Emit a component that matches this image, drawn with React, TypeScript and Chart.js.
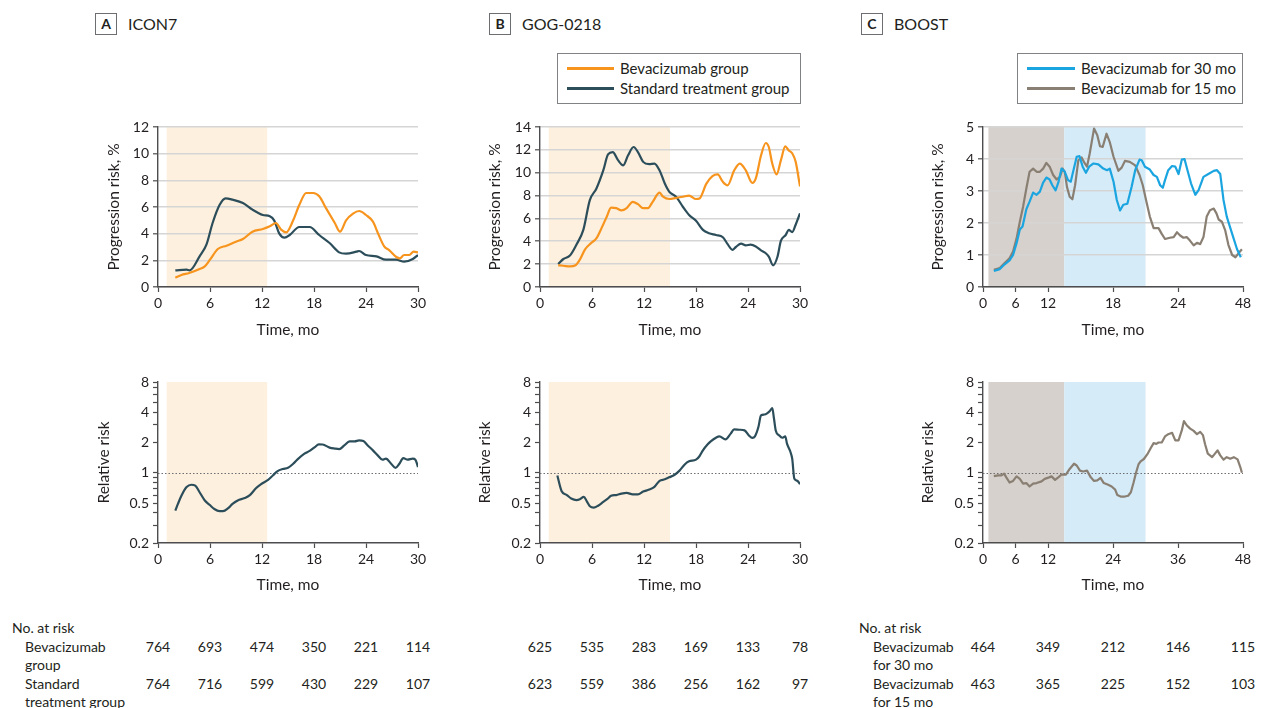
import { useEffect, useRef } from "react";
import { Chart, registerables } from "chart.js";

Chart.register(...registerables);

// ---------- data ----------
// ICON7: progression risk (%) by month
const icon7BevMonths = [2.0, 2.7, 3.6, 4.8, 5.4, 6.0, 6.9, 7.9, 9.0, 9.8, 10.9, 12.1, 12.9, 13.6, 14.2, 14.8, 15.6, 16.3, 17.1, 17.9, 18.6, 19.4, 20.4, 21.0, 21.7, 22.5, 23.2, 24.0, 24.8, 25.4, 26.1, 26.7, 27.5, 27.9, 28.4, 29.0, 29.5, 30.0];
const icon7BevRisk = [0.7, 0.9, 1.05, 1.35, 1.55, 2.05, 2.85, 3.1, 3.4, 3.6, 4.15, 4.35, 4.55, 4.8, 4.3, 4.1, 5.0, 6.15, 7.05, 7.05, 6.8, 5.9, 4.8, 4.15, 5.0, 5.5, 5.7, 5.4, 4.9, 4.0, 3.05, 2.75, 2.25, 2.15, 2.4, 2.4, 2.65, 2.6];
const icon7StdMonths = [2.0, 3.3, 3.65, 4.8, 5.6, 6.3, 7.1, 7.8, 8.6, 9.8, 10.9, 12.1, 12.9, 13.4, 14.0, 14.6, 15.2, 16.3, 17.5, 18.6, 19.8, 20.9, 21.7, 22.9, 23.2, 24.0, 25.2, 26.3, 27.5, 28.4, 29.4, 30.0];
const icon7StdRisk = [1.25, 1.3, 1.25, 2.3, 3.2, 4.8, 6.15, 6.65, 6.55, 6.3, 5.8, 5.4, 5.3, 5.0, 4.0, 3.7, 3.9, 4.5, 4.5, 3.9, 3.3, 2.6, 2.5, 2.65, 2.7, 2.4, 2.3, 2.05, 2.05, 1.9, 2.1, 2.4];
const icon7RelMonths = [2.0, 2.3, 2.7, 3.3, 3.85, 4.3, 4.8, 5.4, 5.95, 6.5, 7.1, 7.5, 8.1, 8.6, 9.2, 10.0, 10.6, 11.3, 11.9, 12.7, 13.25, 13.8, 14.4, 15.0, 15.6, 16.1, 16.9, 17.5, 18.1, 18.55, 19.0, 19.8, 20.4, 20.9, 21.5, 22.1, 22.7, 23.2, 23.7, 24.2, 24.8, 25.35, 25.9, 26.3, 26.9, 27.4, 27.85, 28.3, 28.8, 29.4, 29.7, 30.0];
const icon7RelRisk = [0.42, 0.49, 0.59, 0.72, 0.76, 0.745, 0.64, 0.53, 0.48, 0.436, 0.415, 0.415, 0.445, 0.49, 0.53, 0.56, 0.6, 0.7, 0.77, 0.85, 0.94, 1.04, 1.09, 1.12, 1.23, 1.36, 1.55, 1.65, 1.8, 1.92, 1.91, 1.78, 1.74, 1.72, 1.87, 2.05, 2.05, 2.1, 2.07, 1.87, 1.67, 1.49, 1.35, 1.38, 1.23, 1.12, 1.23, 1.4, 1.35, 1.38, 1.35, 1.14];

// GOG-0218
const gogBevMonths = [2.1, 2.7, 3.45, 4.1, 4.6, 5.2, 5.9, 6.5, 7.1, 7.7, 8.2, 8.8, 9.4, 10.0, 10.7, 11.3, 11.9, 12.45, 13.0, 13.8, 14.2, 14.9, 15.7, 16.5, 17.2, 18.0, 18.4, 19.2, 19.9, 20.5, 21.1, 21.65, 22.4, 23.05, 23.75, 24.5, 24.9, 25.5, 26.05, 26.4, 26.8, 27.3, 27.8, 28.3, 28.7, 29.1, 29.5, 30.0];
const gogBevRisk = [1.9, 1.86, 1.8, 1.9, 2.4, 3.3, 3.85, 4.25, 5.15, 6.15, 6.95, 6.9, 6.7, 6.9, 7.45, 7.25, 6.9, 6.9, 7.45, 8.25, 7.9, 7.7, 7.8, 7.9, 8.0, 7.7, 7.75, 9.05, 9.7, 9.85, 9.2, 8.9, 10.2, 10.8, 10.2, 9.1, 9.5, 11.5, 12.6, 12.25, 10.8, 9.85, 11.1, 12.3, 11.95, 11.7, 10.95, 8.8];
const gogStdMonths = [2.1, 2.7, 3.45, 4.2, 5.0, 5.75, 6.5, 7.3, 7.85, 8.4, 9.0, 9.6, 10.15, 10.8, 11.3, 11.9, 12.6, 13.2, 13.8, 14.4, 14.9, 15.7, 16.5, 17.2, 18.0, 18.8, 19.5, 20.3, 21.1, 21.65, 22.2, 22.6, 23.2, 23.75, 24.3, 24.9, 25.5, 26.05, 26.4, 26.9, 27.4, 27.8, 28.35, 28.7, 29.1, 29.5, 30.0];
const gogStdRisk = [2.0, 2.45, 2.75, 3.7, 5.0, 7.6, 8.6, 10.2, 11.6, 11.8, 11.1, 10.65, 11.5, 12.25, 11.8, 10.95, 10.75, 10.8, 10.2, 9.05, 8.35, 7.9, 7.0, 6.3, 5.8, 5.0, 4.7, 4.55, 4.35, 3.75, 3.25, 3.5, 3.8, 3.65, 3.7, 3.55, 3.2, 2.95, 2.65, 1.9, 2.65, 4.05, 4.55, 5.0, 4.8, 5.45, 6.45];
const gogRelMonths = [2.0, 2.5, 3.1, 3.6, 4.2, 4.6, 5.05, 5.4, 5.75, 6.2, 6.7, 7.3, 7.85, 8.2, 8.8, 9.4, 10.0, 10.7, 11.3, 11.9, 12.6, 13.2, 13.8, 14.4, 14.9, 15.5, 16.1, 16.7, 17.2, 18.0, 18.4, 18.8, 19.35, 19.7, 20.3, 20.7, 21.4, 22.0, 22.4, 23.0, 23.6, 24.1, 24.5, 24.8, 25.2, 25.5, 25.9, 26.2, 26.55, 26.8, 27.0, 27.2, 27.6, 27.95, 28.3, 28.5, 28.9, 29.1, 29.35, 29.7, 30.0];
const gogRelRisk = [0.94, 0.655, 0.6, 0.555, 0.535, 0.545, 0.575, 0.52, 0.465, 0.45, 0.47, 0.513, 0.555, 0.59, 0.6, 0.62, 0.63, 0.61, 0.61, 0.65, 0.68, 0.725, 0.83, 0.86, 0.9, 0.95, 1.05, 1.21, 1.3, 1.35, 1.46, 1.67, 1.92, 2.05, 2.23, 2.3, 2.15, 2.45, 2.7, 2.68, 2.64, 2.35, 2.22, 2.3, 2.85, 3.72, 3.8, 3.9, 4.15, 4.4, 3.45, 2.64, 2.35, 2.23, 2.3, 1.95, 1.61, 1.38, 0.87, 0.83, 0.77];

// BOOST
const boost30Months = [2.0, 3.1, 4.0, 4.9, 5.55, 6.2, 6.8, 7.3, 8.0, 8.6, 9.25, 9.9, 10.5, 11.1, 11.7, 12.3, 12.8, 13.4, 13.9, 14.5, 15.1, 15.7, 16.2, 16.7, 17.3, 17.8, 18.4, 19.0, 19.6, 20.4, 21.3, 22.2, 22.9, 23.4, 24.1, 24.7, 25.3, 25.9, 26.65, 27.45, 28.1, 28.9, 29.3, 29.9, 30.8, 31.5, 32.1, 32.7, 33.2, 33.6, 34.2, 34.9, 35.5, 36.1, 36.7, 37.2, 37.75, 38.4, 39.2, 39.8, 40.7, 41.6, 42.6, 43.2, 43.8, 44.4, 45.0, 46.0, 46.9, 47.6];
const boost30Risk = [0.5, 0.56, 0.71, 0.83, 1.0, 1.37, 1.8, 1.89, 2.43, 2.67, 2.95, 2.88, 2.98, 3.26, 3.42, 3.36, 3.18, 3.02, 3.26, 3.7, 3.6, 3.34, 3.29, 3.65, 4.07, 4.09, 3.76, 3.57, 3.76, 3.86, 3.83, 3.7, 3.65, 3.7, 3.29, 2.72, 2.39, 2.57, 2.6, 3.14, 3.65, 3.98, 3.96, 3.76, 3.67, 3.5, 3.44, 3.18, 3.1, 3.34, 3.65, 3.78, 3.76, 3.53, 3.98, 4.0, 3.65, 3.24, 2.88, 3.03, 3.44, 3.53, 3.63, 3.65, 3.53, 2.72, 2.2, 1.66, 1.18, 0.93];
const boost15Months = [2.0, 3.1, 4.0, 4.9, 5.55, 6.2, 6.8, 7.4, 8.0, 8.6, 9.25, 9.9, 10.5, 11.1, 11.7, 12.3, 12.95, 13.6, 14.2, 14.7, 15.1, 15.5, 16.0, 16.5, 17.0, 17.6, 18.2, 18.8, 19.2, 19.7, 20.5, 21.1, 21.6, 22.1, 22.8, 23.4, 24.1, 25.0, 25.6, 26.2, 27.1, 28.1, 28.9, 29.5, 30.1, 30.8, 31.5, 32.4, 33.0, 33.6, 34.5, 35.2, 35.8, 36.4, 37.0, 37.6, 38.2, 38.9, 39.5, 40.1, 40.7, 41.3, 41.9, 42.6, 43.1, 43.5, 44.1, 44.7, 45.3, 46.0, 46.6, 47.2, 47.8];
const boost15Risk = [0.54, 0.59, 0.75, 0.9, 1.11, 1.52, 2.04, 2.51, 3.08, 3.6, 3.7, 3.6, 3.6, 3.7, 3.88, 3.76, 3.5, 3.36, 3.44, 3.7, 3.6, 3.13, 2.82, 2.74, 3.18, 3.96, 4.05, 3.86, 3.76, 4.17, 4.95, 4.74, 4.4, 4.38, 4.79, 4.53, 4.07, 3.63, 3.73, 3.94, 3.91, 3.8, 3.5, 3.18, 2.72, 2.2, 1.84, 1.84, 1.66, 1.5, 1.54, 1.56, 1.71, 1.61, 1.54, 1.56, 1.45, 1.3, 1.38, 1.34, 1.56, 2.2, 2.4, 2.45, 2.3, 2.11, 2.04, 1.78, 1.32, 1.0, 0.93, 1.06, 1.18];
const boostRelMonths = [2.0, 2.8, 3.4, 3.9, 4.3, 4.9, 5.55, 6.2, 6.8, 7.4, 8.0, 8.6, 9.25, 9.9, 10.8, 11.4, 12.2, 12.65, 13.3, 13.9, 14.5, 15.3, 16.0, 16.8, 17.3, 17.9, 18.5, 19.2, 19.9, 20.5, 21.1, 21.7, 22.3, 23.1, 23.75, 24.4, 24.8, 25.4, 26.2, 26.8, 27.3, 27.8, 28.25, 28.7, 29.1, 29.7, 30.35, 31.0, 31.5, 32.0, 32.4, 33.0, 33.6, 34.2, 34.9, 35.5, 36.1, 36.7, 37.1, 37.6, 38.25, 38.9, 39.5, 40.1, 40.6, 41.0, 41.5, 42.3, 42.9, 43.3, 43.8, 44.4, 45.0, 45.65, 46.3, 47.0, 47.5, 47.8];
const boostRelRisk = [0.925, 0.94, 0.94, 0.98, 0.9, 0.8, 0.83, 0.92, 0.87, 0.78, 0.79, 0.73, 0.78, 0.79, 0.82, 0.87, 0.9, 0.92, 0.85, 0.9, 0.96, 0.96, 1.09, 1.23, 1.18, 1.05, 1.03, 1.05, 0.9, 0.83, 0.84, 0.89, 0.79, 0.76, 0.73, 0.68, 0.6, 0.58, 0.58, 0.59, 0.64, 0.8, 1.0, 1.21, 1.3, 1.37, 1.53, 1.77, 1.97, 1.94, 2.0, 2.0, 2.3, 2.42, 2.5, 2.1, 2.1, 2.64, 3.27, 2.97, 2.75, 2.61, 2.42, 2.55, 2.37, 1.92, 1.55, 1.43, 1.57, 1.67, 1.49, 1.35, 1.43, 1.38, 1.43, 1.36, 1.14, 1.0];

// Axis ticks
const ticks30 = [0, 6, 12, 18, 24, 30];
const ticks48 = [0, 6, 12, 24, 36, 48];
const boostTopTickLabels = ["0", "6", "12", "18", "24", "48"];
const relTicks = [0.2, 0.3, 0.4, 0.5, 0.6, 0.7, 0.8, 0.9, 1, 2, 3, 4, 5, 6, 7, 8];
const relTickLabels = [0.2, 0.5, 1, 2, 4, 8];

// Numbers at risk
const riskMonths30 = [0, 6, 12, 18, 24, 30];
const riskMonths48 = [0, 12, 24, 36, 48];
const icon7BevAtRisk = [764, 693, 474, 350, 221, 114];
const icon7StdAtRisk = [764, 716, 599, 430, 229, 107];
const gogBevAtRisk = [625, 535, 283, 169, 133, 78];
const gogStdAtRisk = [623, 559, 386, 256, 162, 97];
const boost30AtRisk = [464, 349, 212, 146, 115];
const boost15AtRisk = [463, 365, 225, 152, 103];

// ---------- styling ----------
const FONT = "Lato, 'Open Sans', sans-serif";
const INK = "#231f20";
const AXIS = "#4d4d4f";
const GRID = "#d5d5d5";
const ORANGE = "#f7941d";
const TEAL = "#2c4d5a";
const CYAN = "#1ba5e0";
const TAUPE = "#8a7f73";
const PEACH = "#fdf0df";
const STONE = "#d6d1cc";
const SKY = "#d5ebf8";

type Band = { from: number; to: number; color: string };
type Series = { months: number[]; values: number[]; color: string };
type PlotSpec = {
  plotLeft: number;
  plotRight: number;
  plotTop: number;
  plotBottom: number;
  yTitleX: number;
  xTitleY: number;
  yTitle: string;
  xMax: number;
  xTicks: number[];
  xLabels: string[];
  log: boolean;
  yMax?: number;
  yStep?: number;
  bands: Band[];
  refLine?: number;
  series: Series[];
  smooth: boolean;
};

// Shaded treatment windows and the reference line at a relative risk of 1
const overlays = {
  id: "overlays",
  beforeDraw(chart: any, _args: any, opts: any) {
    const { ctx, chartArea: a, scales } = chart;
    ctx.save();
    for (const b of opts.bands || []) {
      const x0 = scales.x.getPixelForValue(b.from);
      const x1 = scales.x.getPixelForValue(b.to);
      ctx.fillStyle = b.color;
      ctx.fillRect(x0, a.top, x1 - x0, a.bottom - a.top);
    }
    ctx.restore();
  },
  beforeDatasetsDraw(chart: any, _args: any, opts: any) {
    if (opts.refLine == null) return;
    const { ctx, chartArea: a, scales } = chart;
    const y = Math.round(scales.y.getPixelForValue(opts.refLine)) + 0.5;
    ctx.save();
    ctx.setLineDash([1.5, 2]);
    ctx.strokeStyle = "#6d6e71";
    ctx.lineWidth = 1.2;
    ctx.beginPath();
    ctx.moveTo(a.left, y);
    ctx.lineTo(a.right, y);
    ctx.stroke();
    ctx.restore();
  },
};

const PAD_TOP = 17;
const PAD_RIGHT = 12;
const TITLE_FONT = 15.5;
const TITLE_LH = TITLE_FONT * 1.2;

function boxOf(p: PlotSpec) {
  const left = Math.round(p.yTitleX - TITLE_LH / 2);
  const top = p.plotTop - PAD_TOP;
  const width = p.plotRight + PAD_RIGHT - left;
  const height = Math.round(p.xTitleY + TITLE_LH / 2) - top;
  return { left, top, width, height };
}

function buildConfig(p: PlotSpec): any {
  const box = boxOf(p);
  const yAxisWidth = p.plotLeft - box.left;
  const xAxisHeight = box.top + box.height - p.plotBottom;
  const tickFont = { family: FONT, size: 14 };
  const titleFont = { family: FONT, size: TITLE_FONT };
  const yScale: any = p.log
    ? {
        type: "logarithmic",
        min: 0.2,
        max: 8,
        afterBuildTicks: (s: any) => {
          s.ticks = relTicks.map((v) => ({ value: v }));
        },
        ticks: {
          autoSkip: false,
          font: tickFont,
          color: INK,
          padding: 4,
          callback: (v: number) => (relTickLabels.includes(v) ? String(v) : ""),
        },
        grid: { drawOnChartArea: false, tickLength: 5, tickColor: AXIS, tickWidth: 1.2 },
      }
    : {
        type: "linear",
        min: 0,
        max: p.yMax,
        ticks: { stepSize: p.yStep, font: tickFont, color: INK, padding: 4 },
        grid: { color: GRID, lineWidth: 1.6, tickLength: 5, tickColor: AXIS, tickWidth: 1.2 },
      };
  yScale.border = { color: AXIS, width: 1.4 };
  yScale.title = { display: true, text: p.yTitle, font: titleFont, color: INK, padding: 0 };
  yScale.afterFit = (s: any) => {
    s.width = yAxisWidth;
  };

  return {
    type: "line",
    data: {
      datasets: p.series.map((s) => ({
        data: s.months.map((m, i) => ({ x: m, y: s.values[i] })),
        borderColor: s.color,
        borderWidth: 2.2,
        pointRadius: 0,
        fill: false,
        tension: p.smooth ? 0.4 : 0,
        cubicInterpolationMode: p.smooth ? "monotone" : "default",
        borderJoinStyle: "round",
      })),
    },
    options: {
      responsive: false,
      animation: false,
      events: [],
      layout: { padding: { top: PAD_TOP, right: PAD_RIGHT, left: 0, bottom: 0 } },
      plugins: {
        legend: { display: false },
        tooltip: { enabled: false },
        overlays: { bands: p.bands, refLine: p.refLine },
      },
      scales: {
        x: {
          type: "linear",
          min: 0,
          max: p.xMax,
          afterBuildTicks: (s: any) => {
            s.ticks = p.xTicks.map((v) => ({ value: v }));
          },
          ticks: {
            autoSkip: false,
            maxRotation: 0,
            font: tickFont,
            color: INK,
            padding: 3,
            callback: (_v: number, i: number) => p.xLabels[i],
          },
          grid: { drawOnChartArea: false, tickLength: 5, tickColor: AXIS, tickWidth: 1.2 },
          border: { color: AXIS, width: 1.4 },
          title: { display: true, text: "Time, mo", font: titleFont, color: INK, padding: 0 },
          afterFit: (s: any) => {
            s.height = xAxisHeight;
          },
        },
        y: yScale,
      },
    },
    plugins: [overlays],
  };
}

const TOP = { plotTop: 127, plotBottom: 287, xTitleY: 330 };
const BOTTOM = { plotTop: 382, plotBottom: 543, xTitleY: 585 };
const COL_A = { plotLeft: 158, plotRight: 418 };
const COL_B = { plotLeft: 540, plotRight: 800 };
const COL_C = { plotLeft: 983, plotRight: 1243 };

const bandsA: Band[] = [{ from: 1, to: 12.6, color: PEACH }];
const bandsB: Band[] = [{ from: 1, to: 15, color: PEACH }];
const bandsC: Band[] = [
  { from: 1, to: 15, color: STONE },
  { from: 15, to: 30, color: SKY },
];

const plots: PlotSpec[] = [
  {
    ...COL_A, ...TOP, yTitleX: 114, yTitle: "Progression risk, %",
    xMax: 30, xTicks: ticks30, xLabels: ticks30.map(String), log: false, yMax: 12, yStep: 2,
    bands: bandsA, smooth: true,
    series: [
      { months: icon7BevMonths, values: icon7BevRisk, color: ORANGE },
      { months: icon7StdMonths, values: icon7StdRisk, color: TEAL },
    ],
  },
  {
    ...COL_B, ...TOP, yTitleX: 495, yTitle: "Progression risk, %",
    xMax: 30, xTicks: ticks30, xLabels: ticks30.map(String), log: false, yMax: 14, yStep: 2,
    bands: bandsB, smooth: true,
    series: [
      { months: gogBevMonths, values: gogBevRisk, color: ORANGE },
      { months: gogStdMonths, values: gogStdRisk, color: TEAL },
    ],
  },
  {
    ...COL_C, ...TOP, yTitleX: 938, yTitle: "Progression risk, %",
    xMax: 48, xTicks: ticks48, xLabels: boostTopTickLabels, log: false, yMax: 5, yStep: 1,
    bands: bandsC, smooth: false,
    series: [
      { months: boost30Months, values: boost30Risk, color: CYAN },
      { months: boost15Months, values: boost15Risk, color: TAUPE },
    ],
  },
  {
    ...COL_A, ...BOTTOM, yTitleX: 104, yTitle: "Relative risk",
    xMax: 30, xTicks: ticks30, xLabels: ticks30.map(String), log: true,
    bands: bandsA, refLine: 1, smooth: true,
    series: [{ months: icon7RelMonths, values: icon7RelRisk, color: TEAL }],
  },
  {
    ...COL_B, ...BOTTOM, yTitleX: 485, yTitle: "Relative risk",
    xMax: 30, xTicks: ticks30, xLabels: ticks30.map(String), log: true,
    bands: bandsB, refLine: 1, smooth: true,
    series: [{ months: gogRelMonths, values: gogRelRisk, color: TEAL }],
  },
  {
    ...COL_C, ...BOTTOM, yTitleX: 928, yTitle: "Relative risk",
    xMax: 48, xTicks: ticks48, xLabels: ticks48.map(String), log: true,
    bands: bandsC, refLine: 1, smooth: false,
    series: [{ months: boostRelMonths, values: boostRelRisk, color: TAUPE }],
  },
];

function Plot({ spec }: { spec: PlotSpec }) {
  const ref = useRef<HTMLCanvasElement>(null);
  const box = boxOf(spec);
  useEffect(() => {
    const chart = new Chart(ref.current as HTMLCanvasElement, buildConfig(spec));
    return () => chart.destroy();
  }, [spec]);
  return (
    <div style={{ position: "absolute", left: box.left, top: box.top, width: box.width, height: box.height }}>
      <canvas ref={ref} width={box.width} height={box.height} style={{ display: "block" }} />
    </div>
  );
}

function PanelHeader({ left, letter, name }: { left: number; letter: string; name: string }) {
  return (
    <>
      <div
        style={{
          position: "absolute", left, top: 13, width: 22, height: 22, boxSizing: "border-box",
          border: "1px solid #6d6e71", fontWeight: 700, fontSize: 14, lineHeight: "20px", textAlign: "center",
        }}
      >
        {letter}
      </div>
      <div style={{ position: "absolute", left: left + 33, top: 13, height: 22, lineHeight: "22px", fontSize: 16 }}>{name}</div>
    </>
  );
}

function Legend({ left, width, lineLeft, lineWidth, items }: { left: number; width: number; lineLeft: number; lineWidth: number; items: { label: string; color: string }[] }) {
  return (
    <div style={{ position: "absolute", left, top: 53, width, height: 51, boxSizing: "border-box", border: "1px solid #808285" }}>
      {items.map((it, i) => (
        <div key={it.label}>
          <div style={{ position: "absolute", left: lineLeft, top: 14 + i * 20 - 1.5, width: lineWidth, height: 3, background: it.color }} />
          <div style={{ position: "absolute", left: lineLeft + lineWidth + 6, top: 14 + i * 20 - 10, lineHeight: "20px", fontSize: 15, whiteSpace: "nowrap" }}>{it.label}</div>
        </div>
      ))}
    </div>
  );
}

function xOf(col: { plotLeft: number; plotRight: number }, max: number, m: number) {
  return col.plotLeft + (m / max) * (col.plotRight - col.plotLeft);
}

function Cell({ x, y, text, align = "center" }: { x: number; y: number; text: string | number; align?: "center" | "left" }) {
  const style: any = { position: "absolute", top: y - 10, lineHeight: "20px", fontSize: 14, whiteSpace: "nowrap" };
  if (align === "center") {
    style.left = x - 30;
    style.width = 60;
    style.textAlign = "center";
  } else {
    style.left = x;
  }
  return <div style={style}>{text}</div>;
}

function AtRiskRow({ col, max, months, counts, y }: { col: any; max: number; months: number[]; counts: number[]; y: number }) {
  return (
    <>
      {counts.map((n, i) => (
        <Cell key={i} x={xOf(col, max, months[i])} y={y} text={n} />
      ))}
    </>
  );
}

export default function App() {
  const rowHead = 628;
  const row1 = 647;
  const row1b = 665;
  const row2 = 684;
  const row2b = 702;
  return (
    <div
      style={{
        position: "fixed", left: 0, top: 0, width: 1261, height: 708, background: "#fff",
        fontFamily: FONT, color: INK, overflow: "hidden",
      }}
    >
      <PanelHeader left={95} letter="A" name="ICON7" />
      <PanelHeader left={489} letter="B" name="GOG-0218" />
      <PanelHeader left={861} letter="C" name="BOOST" />

      <Legend
        left={557} width={244} lineLeft={9} lineWidth={47}
        items={[
          { label: "Bevacizumab group", color: ORANGE },
          { label: "Standard treatment group", color: TEAL },
        ]}
      />
      <Legend
        left={1017} width={226} lineLeft={9} lineWidth={48}
        items={[
          { label: "Bevacizumab for 30 mo", color: CYAN },
          { label: "Bevacizumab for 15 mo", color: TAUPE },
        ]}
      />

      {plots.map((p, i) => (
        <Plot key={i} spec={p} />
      ))}

      <Cell x={12} y={rowHead} text="No. at risk" align="left" />
      <Cell x={25} y={row1} text="Bevacizumab" align="left" />
      <Cell x={25} y={row1b} text="group" align="left" />
      <Cell x={25} y={row2} text="Standard" align="left" />
      <Cell x={25} y={row2b} text="treatment group" align="left" />
      <AtRiskRow col={COL_A} max={30} months={riskMonths30} counts={icon7BevAtRisk} y={row1} />
      <AtRiskRow col={COL_A} max={30} months={riskMonths30} counts={icon7StdAtRisk} y={row2} />
      <AtRiskRow col={COL_B} max={30} months={riskMonths30} counts={gogBevAtRisk} y={row1} />
      <AtRiskRow col={COL_B} max={30} months={riskMonths30} counts={gogStdAtRisk} y={row2} />

      <Cell x={859} y={rowHead} text="No. at risk" align="left" />
      <Cell x={873} y={row1} text="Bevacizumab" align="left" />
      <Cell x={873} y={row1b} text="for 30 mo" align="left" />
      <Cell x={873} y={row2} text="Bevacizumab" align="left" />
      <Cell x={873} y={row2b} text="for 15 mo" align="left" />
      <AtRiskRow col={COL_C} max={48} months={riskMonths48} counts={boost30AtRisk} y={row1} />
      <AtRiskRow col={COL_C} max={48} months={riskMonths48} counts={boost15AtRisk} y={row2} />
    </div>
  );
}
